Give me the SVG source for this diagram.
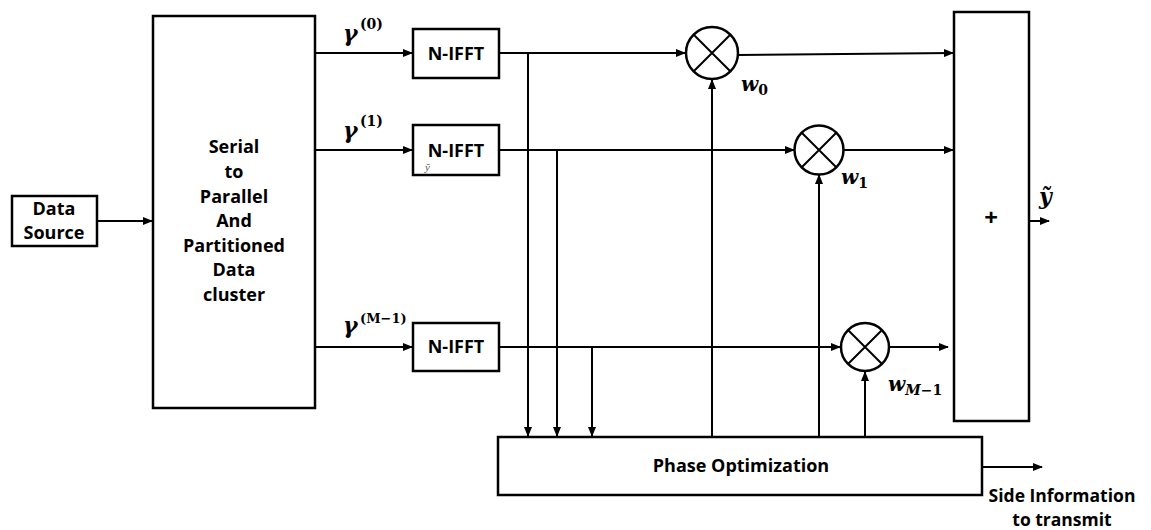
<svg xmlns="http://www.w3.org/2000/svg" width="1151" height="530" viewBox="0 0 1151 530">
<style>
.box{fill:#fff;stroke:#000;stroke-width:2.5}
.ln{fill:none;stroke:#000;stroke-width:2}
.lbl{font-family:"Open Sans","Noto Sans",sans-serif;font-weight:bold;font-size:18px;fill:#000;text-anchor:middle}
.math{font-family:"DejaVu Serif","Liberation Serif",serif;font-weight:bold;font-style:italic;fill:#000}
.sup{font-family:"DejaVu Serif","Liberation Serif",serif;font-weight:bold;font-style:normal;fill:#000}
</style>
<defs>
<marker id="ah" markerWidth="10" markerHeight="8" refX="9" refY="4" orient="auto" markerUnits="userSpaceOnUse">
<path d="M0,0 L10,4 L0,8 z" fill="#000"/>
</marker>
</defs>
<rect width="1151" height="530" fill="#fff"/>

<g id="connectors">
<line class="ln" x1="97" y1="221" x2="152" y2="221" marker-end="url(#ah)"/>
<line class="ln" x1="315" y1="53" x2="412" y2="53" marker-end="url(#ah)"/>
<line class="ln" x1="315" y1="150" x2="412" y2="150" marker-end="url(#ah)"/>
<line class="ln" x1="315" y1="347" x2="412" y2="347" marker-end="url(#ah)"/>
<line class="ln" x1="499" y1="53" x2="685" y2="53" marker-end="url(#ah)"/>
<line class="ln" x1="499" y1="150" x2="794" y2="150" marker-end="url(#ah)"/>
<line class="ln" x1="499" y1="347" x2="840" y2="347" marker-end="url(#ah)"/>
<line class="ln" x1="528" y1="53" x2="528" y2="436" marker-end="url(#ah)"/>
<line class="ln" x1="557" y1="150" x2="557" y2="436" marker-end="url(#ah)"/>
<line class="ln" x1="592" y1="347" x2="592" y2="436" marker-end="url(#ah)"/>
<line class="ln" x1="712" y1="437" x2="712" y2="80" marker-end="url(#ah)"/>
<line class="ln" x1="819" y1="437" x2="819" y2="175" marker-end="url(#ah)"/>
<line class="ln" x1="865" y1="437" x2="865" y2="372" marker-end="url(#ah)"/>
<line class="ln" x1="738" y1="55" x2="953" y2="53" marker-end="url(#ah)"/>
<line class="ln" x1="843" y1="150" x2="953" y2="150" marker-end="url(#ah)"/>
<line class="ln" x1="889" y1="347" x2="948" y2="347" marker-end="url(#ah)"/>
<line class="ln" x1="1029" y1="221" x2="1049" y2="221" marker-end="url(#ah)"/>
<line class="ln" x1="982" y1="467" x2="1042" y2="467" marker-end="url(#ah)"/>
</g>

<g id="data-source">
<rect class="box" x="12" y="196" width="85" height="50"/>
<text class="lbl" x="54" y="215">Data</text>
<text class="lbl" x="54" y="239">Source</text>
</g>

<g id="serial-to-parallel">
<rect class="box" x="153" y="16" width="162" height="392"/>
<text class="lbl" x="234" y="153">Serial</text>
<text class="lbl" x="234" y="178">to</text>
<text class="lbl" x="234" y="203">Parallel</text>
<text class="lbl" x="234" y="227">And</text>
<text class="lbl" x="234" y="252">Partitioned</text>
<text class="lbl" x="234" y="276">Data</text>
<text class="lbl" x="234" y="301">cluster</text>
</g>

<g id="label-gamma0">
<text class="math" x="343" y="41" font-size="22">γ</text>
<text class="sup" x="360" y="29" font-size="14">(0)</text>
</g>
<g id="label-gamma1">
<text class="math" x="343" y="138" font-size="22">γ</text>
<text class="sup" x="360" y="126" font-size="14">(1)</text>
</g>
<g id="label-gammaM">
<text class="math" x="343" y="333" font-size="22">γ</text>
<text class="sup" x="360" y="323" font-size="13">(M−1)</text>
</g>

<g id="nifft-0">
<rect class="box" x="413" y="29" width="86" height="49"/>
<text class="lbl" x="456" y="60">N-IFFT</text>
</g>
<g id="nifft-1">
<rect class="box" x="413" y="125" width="86" height="50"/>
<text class="lbl" x="456" y="157">N-IFFT</text>
<text x="425" y="171" font-family="Liberation Serif, serif" font-style="italic" font-size="11" fill="#555">ỹ</text>
</g>
<g id="nifft-2">
<rect class="box" x="413" y="323" width="86" height="48"/>
<text class="lbl" x="456" y="353">N-IFFT</text>
</g>

<g id="mult-0">
<circle class="box" cx="712" cy="53" r="26"/>
<path class="ln" d="M694,35 L730,71 M730,35 L694,71"/>
<text class="math" x="741" y="91" font-size="20">w<tspan class="sup" font-size="14" dy="4">0</tspan></text>
</g>
<g id="mult-1">
<circle class="box" cx="819" cy="150" r="24.5"/>
<path class="ln" d="M802,133 L836,167 M836,133 L802,167"/>
<text class="math" x="841" y="184" font-size="20">w<tspan class="sup" font-size="14" dy="4">1</tspan></text>
</g>
<g id="mult-2">
<circle class="box" cx="865" cy="347" r="24"/>
<path class="ln" d="M848,330 L882,364 M882,330 L848,364"/>
<text class="math" x="888" y="391" font-size="20">w<tspan font-size="14" dy="4">M</tspan><tspan class="sup" font-size="14">−1</tspan></text>
</g>

<g id="sum">
<rect class="box" x="954" y="12" width="75" height="409"/>
<text class="lbl" x="991" y="226" style="font-size:24px">+</text>
</g>
<g id="label-ytilde">
<text class="math" x="1039" y="204" font-size="22">ỹ</text>
</g>

<g id="phase-optimization">
<rect class="box" x="498" y="437" width="484" height="58"/>
<text class="lbl" x="741" y="472">Phase Optimization</text>
</g>

<g id="side-info">
<text class="lbl" x="1062" y="502" style="font-size:17.5px">Side Information</text>
<text class="lbl" x="1062" y="526" style="font-size:17.5px">to transmit</text>
</g>
</svg>
